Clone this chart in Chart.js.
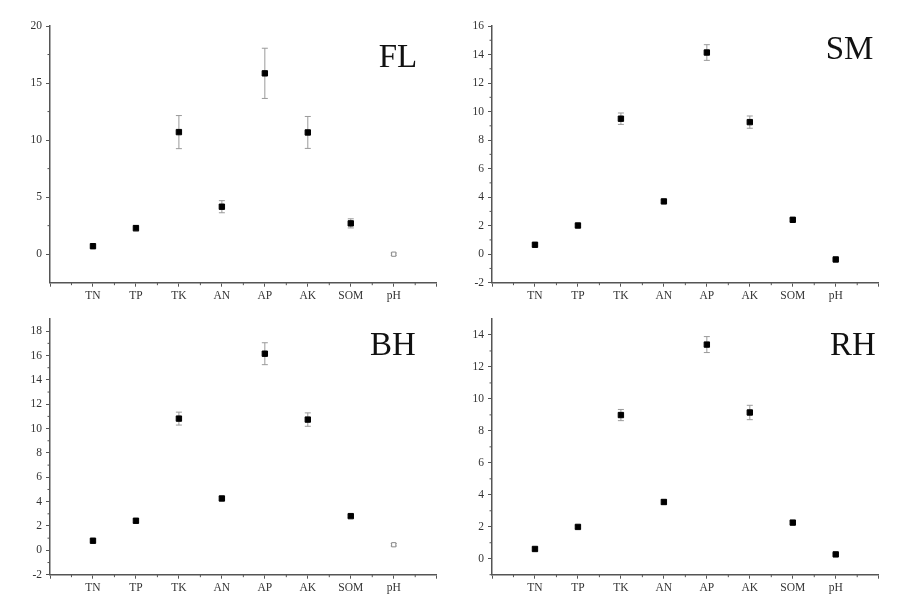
<!DOCTYPE html>
<html>
<head>
<meta charset="utf-8">
<script src="https://cdn.jsdelivr.net/npm/chart.js@4/dist/chart.umd.min.js"></script>
<style>
  html, body { margin: 0; padding: 0; background: #fff; }
  #wrap { position: relative; width: 904px; height: 608px; overflow: hidden; }
  .panel { position: absolute; width: 452px; height: 304px; }
  .ttl { position: absolute; font-family: "Liberation Serif", "DejaVu Serif", serif; font-size: 33px; line-height: 33px; color: #111; transform: translateX(-50%); white-space: nowrap; }
</style>
</head>
<body>
<div id="wrap">
  <div class="panel" style="left:0;top:0"><canvas id="cFL"></canvas></div>
  <div class="panel" style="left:452px;top:0"><canvas id="cSM"></canvas></div>
  <div class="panel" style="left:0;top:304px"><canvas id="cBH"></canvas></div>
  <div class="panel" style="left:452px;top:304px"><canvas id="cRH"></canvas></div>
  <div class="ttl" style="left:398px;top:39.5px">FL</div>
  <div class="ttl" style="left:849.5px;top:31.5px">SM</div>
  <div class="ttl" style="left:393px;top:327.5px">BH</div>
  <div class="ttl" style="left:853px;top:327.5px">RH</div>
</div>
<script>
// ---- data ----
const categories = ['TN', 'TP', 'TK', 'AN', 'AP', 'AK', 'SOM', 'pH'];

const flValues = [0.70, 2.28, 10.70, 4.16, 15.85, 10.67, 2.70, 0.00];
const flErrors = [0.10, 0.25, 1.45, 0.53, 2.20, 1.40, 0.40, 0.10];
const smValues = [0.66, 2.01, 9.50, 3.70, 14.14, 9.26, 2.41, -0.37];
const smErrors = [0.10, 0.10, 0.40, 0.10, 0.55, 0.43, 0.10, 0.05];
const bhValues = [0.79, 2.43, 10.82, 4.26, 16.15, 10.74, 2.81, 0.46];
const bhErrors = [0.10, 0.15, 0.53, 0.15, 0.90, 0.55, 0.10, 0.10];
const rhValues = [0.61, 1.99, 8.99, 3.55, 13.40, 9.15, 2.26, 0.27];
const rhErrors = [0.10, 0.10, 0.35, 0.15, 0.50, 0.45, 0.10, 0.05];

// open (hollow) marker for the pH point in FL and BH
const flHollow = [false, false, false, false, false, false, false, true];
const smHollow = [false, false, false, false, false, false, false, false];
const bhHollow = [false, false, false, false, false, false, false, true];
const rhHollow = [false, false, false, false, false, false, false, false];

const flTicks = [0, 5, 10, 15, 20];
const flMinor = [2.5, 7.5, 12.5, 17.5];
const smTicks = [-2, 0, 2, 4, 6, 8, 10, 12, 14, 16];
const smMinor = [-1, 1, 3, 5, 7, 9, 11, 13, 15];
const bhTicks = [-2, 0, 2, 4, 6, 8, 10, 12, 14, 16, 18];
const bhMinor = [-1, 1, 3, 5, 7, 9, 11, 13, 15, 17];
const rhTicks = [0, 2, 4, 6, 8, 10, 12, 14];
const rhMinor = [-1, 1, 3, 5, 7, 9, 11, 13];

const flRange = [-2.5, 20];
const smRange = [-2, 16];
const bhRange = [-2, 19];
const rhRange = [-1, 15];

// ---- drawing ----
const AXIS = '#555';
const LABEL = '#333';
const FONT = "'Liberation Serif', 'DejaVu Serif', serif";

const errorBarPlugin = {
  id: 'errbars',
  beforeDatasetsDraw(chart) {
    const ctx = chart.ctx, xs = chart.scales.x, ys = chart.scales.y;
    const ds = chart.data.datasets[0];
    ctx.save();
    ctx.strokeStyle = '#9a9a9a';
    ctx.lineWidth = 1;
    ds.data.forEach(p => {
      if (!p.err) return;
      const x = xs.getPixelForValue(p.x);
      const y1 = ys.getPixelForValue(p.y + p.err);
      const y2 = ys.getPixelForValue(p.y - p.err);
      ctx.beginPath();
      ctx.moveTo(x, y1); ctx.lineTo(x, y2);
      ctx.moveTo(x - 3, y1); ctx.lineTo(x + 3, y1);
      ctx.moveTo(x - 3, y2); ctx.lineTo(x + 3, y2);
      ctx.stroke();
    });
    ctx.restore();
  }
};

const minorTickPlugin = {
  id: 'minorticks',
  afterDraw(chart, args, opts) {
    const ctx = chart.ctx, xs = chart.scales.x, ys = chart.scales.y;
    const area = chart.chartArea;
    ctx.save();
    ctx.strokeStyle = AXIS;
    ctx.lineWidth = 1;
    ctx.beginPath();
    for (let i = 0; i < categories.length + 1; i++) {
      const x = xs.getPixelForValue(i + 0.5);
      ctx.moveTo(x, area.bottom); ctx.lineTo(x, area.bottom + 2.5);
    }
    (opts.minor || []).forEach(v => {
      const y = ys.getPixelForValue(v);
      ctx.moveTo(area.left, y); ctx.lineTo(area.left - 2.5, y);
    });
    ctx.stroke();
    ctx.restore();
  }
};

function makeChart(id, values, errors, hollow, ticks, minor, range, pad) {
  const data = values.map((v, i) => ({ x: i + 1, y: v, err: errors[i] }));
  return new Chart(document.getElementById(id), {
    type: 'scatter',
    data: {
      datasets: [{
        data: data,
        pointStyle: 'rect',
        pointRadius: values.map((v, i) => hollow[i] ? 3.0 : 3.8),
        pointBackgroundColor: values.map((v, i) => hollow[i] ? '#fff' : '#000'),
        pointBorderColor: values.map((v, i) => hollow[i] ? '#8a8a8a' : '#000'),
        pointBorderWidth: 1,
        showLine: false
      }]
    },
    options: {
      responsive: true,
      maintainAspectRatio: false,
      animation: false,
      events: [],
      layout: { padding: { top: pad.top, right: pad.right, left: 0, bottom: 0 } },
      plugins: {
        legend: { display: false },
        tooltip: { enabled: false },
        minorticks: { minor: minor }
      },
      scales: {
        x: {
          type: 'linear',
          min: 0,
          max: categories.length + 1,
          afterBuildTicks(scale) {
            const t = [];
            for (let i = 0; i <= categories.length + 1; i++) t.push({ value: i });
            scale.ticks = t;
          },
          afterFit(scale) { scale.height = pad.xh; },
          ticks: {
            autoSkip: false,
            maxRotation: 0,
            padding: 2,
            color: LABEL,
            font: { family: FONT, size: 11.5 },
            callback: (v) => (v >= 1 && v <= categories.length) ? categories[v - 1] : ''
          },
          grid: { display: true, drawOnChartArea: false, drawTicks: true, tickLength: 4, color: AXIS, lineWidth: 1 },
          border: { display: true, color: AXIS, width: 1.5 }
        },
        y: {
          type: 'linear',
          min: range[0],
          max: range[1],
          afterBuildTicks(scale) { scale.ticks = ticks.map(v => ({ value: v })); },
          afterFit(scale) { scale.width = pad.yw; },
          ticks: {
            padding: 4,
            color: LABEL,
            font: { family: FONT, size: 11.5 },
            callback: (v) => String(v)
          },
          grid: { display: true, drawOnChartArea: false, drawTicks: true, tickLength: 4, color: AXIS, lineWidth: 1 },
          border: { display: true, color: AXIS, width: 1.5 }
        }
      }
    },
    plugins: [errorBarPlugin, minorTickPlugin]
  });
}

makeChart('cFL', flValues, flErrors, flHollow, flTicks, flMinor, flRange, { top: 26, right: 15.3, yw: 50, xh: 21.3 });
makeChart('cSM', smValues, smErrors, smHollow, smTicks, smMinor, smRange, { top: 26, right: 25.3, yw: 40, xh: 21.3 });
makeChart('cBH', bhValues, bhErrors, bhHollow, bhTicks, bhMinor, bhRange, { top: 15, right: 15.3, yw: 50, xh: 33.3 });
makeChart('cRH', rhValues, rhErrors, rhHollow, rhTicks, rhMinor, rhRange, { top: 15, right: 25.3, yw: 40, xh: 33.3 });
</script>
</body>
</html>
